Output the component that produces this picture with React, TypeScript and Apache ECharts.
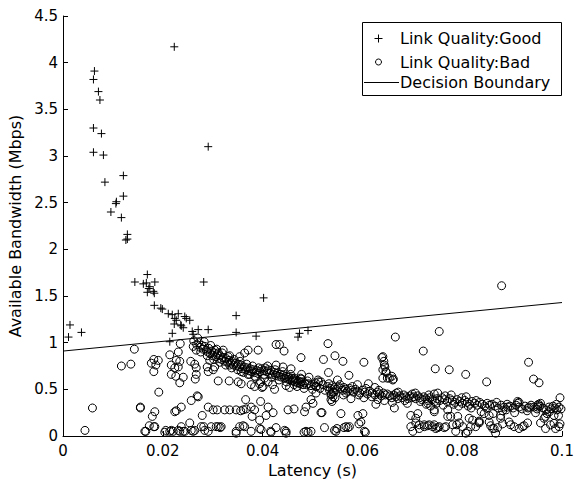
import React, { useEffect, useRef } from "react";
import * as echarts from "echarts";

const FONT = "DejaVu Sans";

const xTicks = [0, 0.02, 0.04, 0.06, 0.08, 0.1];
const yTicks = [0, 0.5, 1, 1.5, 2, 2.5, 3, 3.5, 4, 4.5];

const legendLabels = ["Link Quality:Good", "Link Quality:Bad", "Decision Boundary"];

// Decision boundary endpoints (latency, bandwidth)
const boundary: [number, number][] = [[0, 0.91], [0.1, 1.43]];

// Link Quality: Good (latency s, bandwidth Mbps)
const goodPoints: [number, number][] = [
  [0.0223, 4.17], [0.0063, 3.91], [0.0061, 3.82], [0.0071, 3.69], [0.0074, 3.6], [0.0061, 3.3],
  [0.0077, 3.24], [0.0061, 3.04], [0.0081, 3.01], [0.0291, 3.1], [0.0121, 2.79], [0.0084, 2.72],
  [0.0121, 2.57], [0.0107, 2.51], [0.0106, 2.49], [0.0096, 2.4], [0.0117, 2.34], [0.0129, 2.16],
  [0.0126, 2.1], [0.0129, 2.11], [0.0169, 1.73], [0.0144, 1.65], [0.0161, 1.63], [0.0167, 1.64],
  [0.0184, 1.65], [0.0174, 1.6], [0.0169, 1.54], [0.0183, 1.53], [0.0282, 1.65], [0.0183, 1.4],
  [0.0196, 1.37], [0.0199, 1.36], [0.0211, 1.31], [0.0219, 1.3], [0.0231, 1.31], [0.0244, 1.28],
  [0.0347, 1.29], [0.0014, 1.19], [0.0011, 1.06], [0.0037, 1.11], [0.0224, 1.26], [0.0227, 1.24],
  [0.0223, 1.2], [0.0236, 1.19], [0.0241, 1.16], [0.0247, 1.26], [0.0254, 1.24], [0.0259, 1.12],
  [0.0271, 1.14], [0.0291, 1.14], [0.0347, 1.11], [0.0219, 1.1], [0.0214, 1.01], [0.0387, 1.07],
  [0.0471, 1.06], [0.0474, 1.1], [0.0491, 1.13], [0.0402, 1.48], [0.0172, 1.58], [0.0181, 1.55],
  [0.0261, 1.09], [0.0237, 1.18],
];

// Link Quality: Bad — dense band, left part
const badBandLeft: [number, number][] = [
  [0.0262, 1.02], [0.0268, 0.98], [0.0272, 1.0], [0.0275, 0.95], [0.0278, 0.97], [0.0281, 0.93],
  [0.0284, 0.96], [0.0287, 0.92], [0.029, 0.9], [0.0292, 0.94], [0.0295, 0.88], [0.0298, 0.91],
  [0.03, 0.86], [0.0303, 0.89], [0.0306, 0.85], [0.0309, 0.87], [0.0312, 0.83], [0.0315, 0.86],
  [0.0318, 0.82], [0.0321, 0.84], [0.0324, 0.8], [0.0327, 0.83], [0.033, 0.79], [0.0333, 0.81],
  [0.0336, 0.78], [0.0339, 0.8], [0.0342, 0.76], [0.0345, 0.78], [0.0348, 0.75], [0.0351, 0.77],
  [0.0354, 0.74], [0.0357, 0.76], [0.036, 0.72], [0.0363, 0.74], [0.0366, 0.71], [0.0369, 0.73],
  [0.0372, 0.7], [0.0375, 0.72], [0.0378, 0.69], [0.0381, 0.71], [0.0384, 0.68], [0.0388, 0.7],
  [0.0391, 0.67], [0.0395, 0.69], [0.0304, 0.92], [0.0311, 0.89], [0.0321, 0.92], [0.0334, 0.86],
  [0.0354, 0.85], [0.0334, 0.76], [0.0357, 0.69], [0.0371, 0.66], [0.0384, 0.64],
  [0.027, 1.05], [0.0276, 0.9], [0.0283, 1.01], [0.0289, 0.86], [0.0296, 0.97], [0.0302, 0.82],
  [0.0308, 0.93], [0.0314, 0.79], [0.0319, 0.89], [0.0326, 0.76], [0.0331, 0.85], [0.0338, 0.73],
  [0.0343, 0.82], [0.035, 0.71], [0.0355, 0.8], [0.0362, 0.68], [0.0368, 0.77], [0.0374, 0.66],
  [0.038, 0.75], [0.0386, 0.63], [0.0392, 0.73],
];

// Link Quality: Bad — dense band, middle part
const badBandMid: [number, number][] = [
  [0.0398, 0.72], [0.0402, 0.7], [0.0405, 0.73], [0.0408, 0.69], [0.0411, 0.71], [0.0414, 0.67],
  [0.0417, 0.7], [0.042, 0.66], [0.0423, 0.68], [0.0426, 0.65], [0.0429, 0.67], [0.0432, 0.64],
  [0.0435, 0.66], [0.0438, 0.63], [0.0441, 0.65], [0.0444, 0.62], [0.0447, 0.64], [0.045, 0.61],
  [0.0452, 0.63], [0.0455, 0.6], [0.0458, 0.62], [0.046, 0.59], [0.0462, 0.61], [0.0465, 0.58],
  [0.0467, 0.6], [0.047, 0.57], [0.0472, 0.59], [0.0475, 0.56], [0.0478, 0.58], [0.0481, 0.55],
  [0.0484, 0.57], [0.0488, 0.55], [0.0492, 0.56], [0.0497, 0.54], [0.0503, 0.55], [0.0508, 0.53],
  [0.0404, 0.62], [0.0411, 0.58], [0.042, 0.55], [0.0427, 0.76], [0.0441, 0.74], [0.0457, 0.72],
  [0.0463, 0.55], [0.0478, 0.66], [0.0493, 0.63], [0.0512, 0.58], [0.0521, 0.55], [0.0396, 0.58],
  [0.0399, 0.52],
  [0.053, 0.53], [0.0536, 0.51], [0.054, 0.54], [0.0544, 0.52], [0.0548, 0.5], [0.0552, 0.53],
  [0.0556, 0.51], [0.056, 0.49], [0.0563, 0.52], [0.0566, 0.5], [0.057, 0.48], [0.0574, 0.51],
  [0.0578, 0.49], [0.0582, 0.47], [0.0586, 0.5], [0.059, 0.48], [0.0595, 0.46], [0.06, 0.49],
  [0.0605, 0.47], [0.061, 0.45], [0.0615, 0.48], [0.062, 0.46], [0.0625, 0.44], [0.063, 0.47],
  [0.0634, 0.45], [0.0638, 0.43], [0.0642, 0.46], [0.0646, 0.44], [0.065, 0.45],
  [0.0538, 0.45], [0.0545, 0.41], [0.055, 0.6], [0.0562, 0.44], [0.0577, 0.4], [0.059, 0.55],
  [0.0603, 0.41], [0.0612, 0.56], [0.0625, 0.52], [0.0631, 0.39], [0.0641, 0.62], [0.0644, 0.38],
  [0.0403, 0.66], [0.041, 0.75], [0.0418, 0.63], [0.0425, 0.71], [0.0433, 0.6], [0.044, 0.69],
  [0.0448, 0.58], [0.0456, 0.66], [0.0464, 0.62], [0.0469, 0.53], [0.0476, 0.62], [0.0483, 0.51],
  [0.049, 0.59], [0.05, 0.5], [0.0506, 0.57], [0.0515, 0.51], [0.0525, 0.49], [0.0533, 0.56],
  [0.0543, 0.47], [0.0555, 0.55], [0.0567, 0.46], [0.058, 0.53], [0.0593, 0.44], [0.0607, 0.51],
  [0.0619, 0.42], [0.0633, 0.49],
];

// Link Quality: Bad — dense band, right part
const badBandRight: [number, number][] = [
  [0.0655, 0.43], [0.0659, 0.41], [0.0663, 0.44], [0.0667, 0.42], [0.0671, 0.4], [0.0675, 0.43],
  [0.0679, 0.41], [0.0683, 0.44], [0.0687, 0.42], [0.0691, 0.4], [0.0695, 0.43], [0.0699, 0.41],
  [0.0703, 0.42], [0.0707, 0.4], [0.0711, 0.43], [0.0715, 0.41], [0.0719, 0.39], [0.0723, 0.42],
  [0.0727, 0.4], [0.0731, 0.38], [0.0735, 0.41], [0.074, 0.39], [0.0745, 0.37], [0.075, 0.4],
  [0.0755, 0.38], [0.076, 0.41], [0.0765, 0.39], [0.077, 0.37], [0.0775, 0.4], [0.078, 0.38],
  [0.0785, 0.36], [0.079, 0.39], [0.0795, 0.37], [0.08, 0.35], [0.0805, 0.38], [0.081, 0.36],
  [0.0815, 0.34], [0.082, 0.37],
  [0.066, 0.36], [0.0672, 0.47], [0.069, 0.35], [0.0706, 0.46], [0.0728, 0.34], [0.0744, 0.45],
  [0.0762, 0.33], [0.0778, 0.44], [0.0793, 0.32], [0.0808, 0.42], [0.0818, 0.3],
  [0.0825, 0.35], [0.083, 0.33], [0.0835, 0.36], [0.084, 0.34], [0.0845, 0.32], [0.085, 0.35],
  [0.0855, 0.33], [0.086, 0.34], [0.0866, 0.32], [0.0872, 0.3], [0.0878, 0.33], [0.0884, 0.31],
  [0.089, 0.34], [0.0896, 0.32], [0.0902, 0.3], [0.0908, 0.33], [0.0914, 0.31], [0.092, 0.29],
  [0.0926, 0.32], [0.0932, 0.3], [0.0938, 0.33], [0.0944, 0.31], [0.095, 0.29], [0.0956, 0.32],
  [0.0962, 0.3], [0.0968, 0.28], [0.0974, 0.31], [0.0978, 0.29], [0.0982, 0.32], [0.0986, 0.3],
  [0.099, 0.28], [0.0994, 0.31], [0.0998, 0.29],
  [0.0838, 0.26], [0.0862, 0.24], [0.0881, 0.27], [0.0905, 0.25], [0.0947, 0.25], [0.097, 0.24],
  [0.0993, 0.22],
  [0.0668, 0.46], [0.0685, 0.38], [0.07, 0.45], [0.0716, 0.37], [0.0733, 0.44], [0.0748, 0.35],
  [0.0766, 0.43], [0.0783, 0.34], [0.0799, 0.41], [0.0812, 0.32], [0.0828, 0.38], [0.0848, 0.3],
  [0.0869, 0.36], [0.0888, 0.28], [0.0911, 0.35], [0.093, 0.27], [0.0953, 0.34], [0.0975, 0.26],
  [0.0989, 0.34],
];

// Link Quality: Bad — scattered points away from the band
const badScatter: [number, number][] = [
  [0.0143, 0.93], [0.0117, 0.75], [0.0136, 0.77], [0.0059, 0.3], [0.0155, 0.3], [0.0182, 0.82],
  [0.0191, 0.81], [0.0177, 0.78], [0.0186, 0.76], [0.0182, 0.69], [0.0214, 0.87], [0.0231, 0.9],
  [0.0217, 0.76], [0.0227, 0.81], [0.0234, 0.8], [0.0224, 0.73], [0.0231, 0.74], [0.0217, 0.66],
  [0.0226, 0.64], [0.0241, 0.63], [0.0234, 0.57], [0.0235, 0.99], [0.0256, 0.8], [0.0264, 0.77],
  [0.0267, 0.73], [0.0267, 0.66], [0.0265, 0.61], [0.0261, 0.96], [0.0267, 0.92], [0.0289, 0.74],
  [0.0294, 0.81], [0.0291, 0.69], [0.0304, 0.74], [0.0301, 0.71], [0.0311, 0.59], [0.0333, 0.59],
  [0.0351, 0.58], [0.0357, 0.56], [0.0377, 0.55], [0.0371, 0.92], [0.0391, 0.92], [0.0192, 0.47],
  [0.0155, 0.31], [0.0184, 0.26], [0.0179, 0.21], [0.0257, 0.38], [0.0271, 0.42], [0.0237, 0.31],
  [0.0227, 0.27], [0.0279, 0.22], [0.0291, 0.31], [0.0301, 0.28], [0.0309, 0.28], [0.0324, 0.28],
  [0.0334, 0.28], [0.0347, 0.28], [0.0356, 0.27], [0.0361, 0.28], [0.0367, 0.29], [0.0384, 0.28],
  [0.0366, 0.39], [0.0224, 0.26], [0.0269, 0.43],
  [0.0427, 0.98], [0.0434, 0.98], [0.0443, 0.91], [0.0477, 0.84], [0.0531, 0.99], [0.0522, 0.82],
  [0.0545, 0.86], [0.0561, 0.8], [0.0603, 0.79], [0.0532, 0.68], [0.0573, 0.65], [0.0511, 0.6],
  [0.0639, 0.84], [0.0641, 0.71], [0.0644, 0.76], [0.0647, 0.69], [0.0654, 0.62], [0.0661, 0.6],
  [0.0364, 0.89], [0.0394, 0.56], [0.0384, 0.53], [0.0401, 0.53], [0.0447, 0.54], [0.0454, 0.52],
  [0.0507, 0.53], [0.0517, 0.58], [0.0477, 0.61], [0.0534, 0.49], [0.0541, 0.47], [0.0537, 0.44],
  [0.0424, 0.5], [0.0396, 0.37], [0.0411, 0.31], [0.0407, 0.22], [0.0451, 0.28], [0.0463, 0.29],
  [0.0487, 0.31], [0.0484, 0.26], [0.0507, 0.46], [0.0517, 0.25], [0.0539, 0.37], [0.0541, 0.42],
  [0.0557, 0.24], [0.0591, 0.22], [0.0601, 0.24], [0.0627, 0.34], [0.0597, 0.15], [0.0377, 0.31],
  [0.0379, 0.21], [0.0421, 0.25], [0.0497, 0.39], [0.0501, 0.35], [0.0519, 0.25], [0.0537, 0.39],
  [0.0593, 0.13],
  [0.0666, 1.06], [0.0754, 1.12], [0.0722, 0.91], [0.0746, 0.72], [0.0774, 0.71], [0.0807, 0.66],
  [0.0641, 0.85], [0.0643, 0.8], [0.0645, 0.74], [0.0648, 0.68], [0.065, 0.62], [0.0659, 0.64],
  [0.0662, 0.61], [0.0664, 0.3], [0.0697, 0.22], [0.0707, 0.19], [0.0737, 0.32], [0.0751, 0.46],
  [0.0879, 1.61], [0.0933, 0.79], [0.0943, 0.61], [0.0954, 0.57], [0.0849, 0.58], [0.0996, 0.41],
  [0.0911, 0.37], [0.0891, 0.31], [0.0934, 0.31], [0.0951, 0.31], [0.0957, 0.35],
  [0.0711, 0.24], [0.0731, 0.35], [0.0744, 0.26], [0.0771, 0.21], [0.0791, 0.21], [0.0814, 0.19],
  [0.0834, 0.15], [0.0854, 0.22], [0.0877, 0.22], [0.0914, 0.36], [0.0951, 0.33], [0.0967, 0.21],
  [0.0984, 0.22], [0.0771, 0.28], [0.0744, 0.28], [0.0844, 0.24], [0.0777, 0.21],
];

// Link Quality: Bad — points near zero bandwidth
const badLow: [number, number][] = [
  [0.0044, 0.06], [0.0164, 0.05], [0.0173, 0.11], [0.0182, 0.1], [0.0166, 0.05], [0.0184, 0.1],
  [0.0204, 0.04], [0.0206, 0.06], [0.0214, 0.05], [0.0217, 0.06], [0.0221, 0.05], [0.0231, 0.06],
  [0.0234, 0.05], [0.0237, 0.1], [0.0241, 0.05], [0.0244, 0.05], [0.0254, 0.14], [0.0257, 0.06],
  [0.0261, 0.05], [0.0264, 0.06], [0.0277, 0.1], [0.0282, 0.1], [0.0284, 0.06], [0.0291, 0.05],
  [0.0297, 0.1], [0.0307, 0.1], [0.0311, 0.1], [0.0315, 0.09], [0.0317, 0.1], [0.0347, 0.05],
  [0.0347, 0.03], [0.0354, 0.1], [0.0361, 0.11], [0.0364, 0.1], [0.0377, 0.05], [0.0394, 0.08],
  [0.0394, 0.17], [0.0397, 0.07], [0.0416, 0.05], [0.0417, 0.04], [0.0427, 0.09], [0.0444, 0.06],
  [0.0447, 0.03], [0.0447, 0.05], [0.0483, 0.04], [0.0487, 0.05], [0.0491, 0.04], [0.0497, 0.05],
  [0.0524, 0.09], [0.0544, 0.06], [0.0547, 0.05], [0.0549, 0.08], [0.0563, 0.09], [0.0567, 0.1],
  [0.0571, 0.09], [0.0574, 0.1], [0.0604, 0.05], [0.0606, 0.04],
  [0.0697, 0.1], [0.0701, 0.05], [0.0707, 0.14], [0.0714, 0.12], [0.0714, 0.08], [0.0724, 0.1],
  [0.0724, 0.12], [0.0731, 0.11], [0.0734, 0.12], [0.0741, 0.1], [0.0744, 0.12], [0.0747, 0.08],
  [0.0751, 0.09], [0.0754, 0.1], [0.0764, 0.09], [0.0767, 0.1], [0.0781, 0.12], [0.0787, 0.05],
  [0.0789, 0.12], [0.0794, 0.14], [0.0801, 0.1], [0.0807, 0.03], [0.0811, 0.05], [0.0817, 0.1],
  [0.0821, 0.17], [0.0827, 0.1], [0.0834, 0.16], [0.0834, 0.14], [0.0854, 0.15], [0.0857, 0.11],
  [0.0861, 0.08], [0.0864, 0.08], [0.0867, 0.03], [0.0871, 0.09], [0.0877, 0.19], [0.0881, 0.13],
  [0.0894, 0.15], [0.0897, 0.12], [0.0904, 0.1], [0.0914, 0.08], [0.0921, 0.1], [0.0924, 0.11],
  [0.0931, 0.14], [0.0957, 0.14], [0.0964, 0.19], [0.0967, 0.08], [0.0977, 0.12], [0.0984, 0.135],
  [0.0987, 0.08], [0.0994, 0.1], [0.0996, 0.13],
];

const PLUS = "path://M5,0L5,10M0,5L10,5";

export default function App() {
  const ref = useRef<HTMLDivElement>(null);
  useEffect(() => {
    if (!ref.current) return;
    const chart = echarts.init(ref.current, null, { renderer: "svg" });
    const badAll = [...badBandLeft, ...badBandMid, ...badBandRight, ...badScatter, ...badLow];
    const nameText = { fontFamily: FONT, fontSize: 16, color: "#000" };
    const tickText = { fontFamily: FONT, fontSize: 15, color: "#000" };
    const option = {
      animation: false,
      textStyle: { fontFamily: FONT, color: "#000" },
      grid: { left: 63, right: 12, top: 16, bottom: 44, containLabel: false, outerBoundsMode: "none" },
      xAxis: {
        type: "value",
        min: xTicks[0],
        max: xTicks[xTicks.length - 1],
        interval: 0.02,
        name: "Latency (s)",
        nameLocation: "middle",
        nameGap: 22,
        nameTextStyle: nameText,
        axisLine: { onZero: false, lineStyle: { color: "#000", width: 1 } },
        axisTick: { inside: true, length: 5, lineStyle: { color: "#000" } },
        axisLabel: {
          ...tickText,
          margin: 7,
          formatter: (v: number) => String(Number(v.toFixed(2))),
        },
        splitLine: { show: false },
      },
      yAxis: {
        type: "value",
        min: yTicks[0],
        max: yTicks[yTicks.length - 1],
        interval: 0.5,
        name: "Available Bandwidth (Mbps)",
        nameLocation: "middle",
        nameGap: 38,
        nameTextStyle: nameText,
        axisLine: { onZero: false, lineStyle: { color: "#000", width: 1 } },
        axisTick: { inside: true, length: 5, lineStyle: { color: "#000" } },
        axisLabel: {
          ...tickText,
          margin: 5,
          formatter: (v: number) => String(Number(v.toFixed(1))),
        },
        splitLine: { show: false },
      },
      series: [
        {
          name: legendLabels[1],
          type: "scatter",
          symbol: "circle",
          symbolSize: 8,
          data: badAll,
          itemStyle: { color: "rgba(0,0,0,0)", borderColor: "#000", borderWidth: 1, opacity: 1 },
          emphasis: { disabled: true },
        },
        {
          name: legendLabels[0],
          type: "scatter",
          symbol: PLUS,
          symbolSize: 8,
          data: goodPoints,
          itemStyle: { color: "rgba(0,0,0,0)", borderColor: "#000", borderWidth: 1, opacity: 1 },
          emphasis: { disabled: true },
        },
        {
          name: legendLabels[2],
          type: "line",
          data: boundary,
          symbol: "none",
          lineStyle: { color: "#000", width: 1 },
          z: 3,
        },
      ],
      graphic: [
        {
          type: "rect",
          z: 100,
          shape: { x: 362.5, y: 22.5, width: 199, height: 73 },
          style: { fill: "#fff", stroke: "#000", lineWidth: 1 },
        },
        {
          type: "line",
          z: 101,
          shape: { x1: 374.5, y1: 38.5, x2: 382.5, y2: 38.5 },
          style: { stroke: "#000", lineWidth: 1 },
        },
        {
          type: "line",
          z: 101,
          shape: { x1: 378.5, y1: 34.5, x2: 378.5, y2: 42.5 },
          style: { stroke: "#000", lineWidth: 1 },
        },
        {
          type: "circle",
          z: 101,
          shape: { cx: 378.5, cy: 62, r: 3 },
          style: { fill: "none", stroke: "#000", lineWidth: 1 },
        },
        {
          type: "line",
          z: 101,
          shape: { x1: 364, y1: 82.5, x2: 399, y2: 82.5 },
          style: { stroke: "#000", lineWidth: 1 },
        },
        ...legendLabels.map((t, i) => ({
          type: "text",
          z: 101,
          x: 400,
          y: [38, 62, 82][i],
          style: {
            text: t,
            fontFamily: FONT,
            fontSize: 16,
            fill: "#000",
            verticalAlign: "middle",
            align: "left",
          },
        })),
      ],
    };
    chart.setOption(option as any);
    return () => chart.dispose();
  }, []);
  return <div ref={ref} style={{ width: 574, height: 480, position: "absolute", left: 0, top: 0 }} />;
}
